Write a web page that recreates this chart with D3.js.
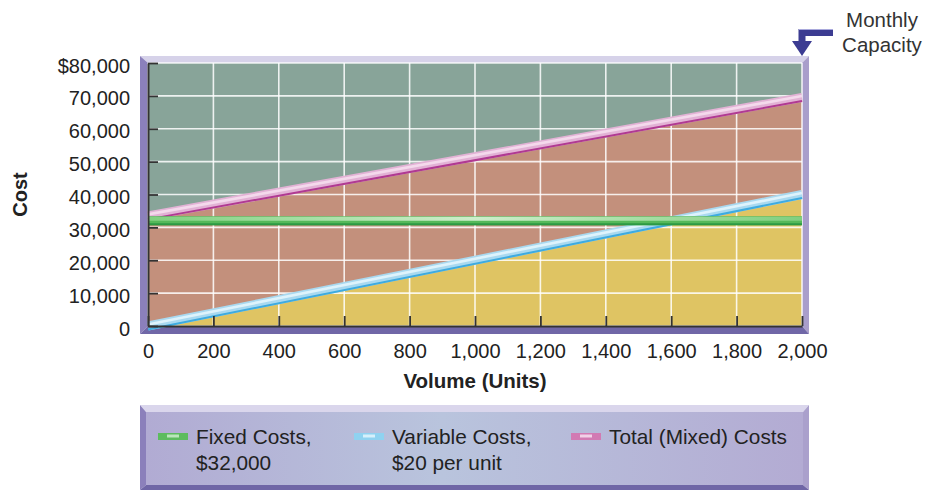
<!DOCTYPE html>
<html>
<head>
<meta charset="utf-8">
<script src="https://cdn.jsdelivr.net/npm/d3@7"></script>
<style>
  html, body { margin: 0; padding: 0; background: #ffffff; }
  svg { display: block; font-family: "Liberation Sans", Arial, Helvetica, sans-serif; }
</style>
</head>
<body>
<svg id="chart" width="926" height="491"></svg>
<script>
// Volume in units (x) and the three cost series in dollars (y)
const volumes = [0, 2000];
const fixedCosts = [32000, 32000];
const variableCosts = [0, 40000];
const totalCosts = [33500, 69500];

const xTicks = [0, 200, 400, 600, 800, 1000, 1200, 1400, 1600, 1800, 2000];
const yTicks = [0, 10000, 20000, 30000, 40000, 50000, 60000, 70000, 80000];
const capacityVolume = 2000;

const legendItems = [
  { lines: ["Fixed Costs,", "$32,000"], key: "fixed" },
  { lines: ["Variable Costs,", "$20 per unit"], key: "variable" },
  { lines: ["Total (Mixed) Costs"], key: "total" }
];

// Layout
const plot = { left: 148, right: 802, top: 63, bottom: 326 };
const font = "'Liberation Sans', Arial, Helvetica, sans-serif";

const palette = {
  upper: "#88a499",
  middle: "#c3907c",
  lower: "#dfc463",
  fixed: { band: "#55b95a", light: "#c4eac4", edge: "#2c9a44", swatch: "#5cbc5e" },
  variable: { band: "#a9d9f0", light: "#def3fc", edge: "#3eabe0", swatch: "#8fd2f0" },
  total: { band: "#e2b2d5", light: "#f4d9ec", edge: "#b03a92", swatch: "#d27ab3" }
};

const svg = d3.select("#chart");
const defs = svg.append("defs");

const x = d3.scaleLinear().domain([0, 2000]).range([plot.left, plot.right]);
const y = d3.scaleLinear().domain([0, 80000]).range([plot.bottom, plot.top]);

const pts = s => volumes.map((v, i) => [v, s[i]]);
const line = d3.line().x(d => x(d[0])).y(d => y(d[1]));

// Bevelled frame around a panel
function bevelFrame(g, L, R, T, B, w, colors) {
  const sides = [
    { p: [[L - w.l, T - w.t], [R + w.r, T - w.t], [R, T], [L, T]], c: colors.top },
    { p: [[L - w.l, T - w.t], [L, T], [L, B], [L - w.l, B + w.b]], c: colors.left },
    { p: [[R, T], [R + w.r, T - w.t], [R + w.r, B + w.b], [R, B]], c: colors.right },
    { p: [[L, B], [R, B], [R + w.r, B + w.b], [L - w.l, B + w.b]], c: colors.bottom }
  ];
  g.selectAll(null).data(sides).join("polygon")
    .attr("points", d => d.p.map(q => q.join(",")).join(" "))
    .attr("fill", d => d.c);
}

const frameColors = { top: "#d6d2e9", left: "#8b80bb", right: "#a99ecb", bottom: "#7067a7" };
bevelFrame(svg.append("g"), plot.left, plot.right, plot.top, plot.bottom,
  { l: 8, t: 7, r: 7, b: 8 }, frameColors);

// Filled regions
const plotG = svg.append("g");
plotG.append("rect")
  .attr("x", plot.left).attr("y", plot.top)
  .attr("width", plot.right - plot.left).attr("height", plot.bottom - plot.top)
  .attr("fill", palette.upper);
plotG.append("path")
  .datum(volumes.map((v, i) => ({ v, top: totalCosts[i], bot: variableCosts[i] })))
  .attr("d", d3.area().x(d => x(d.v)).y0(d => y(d.bot)).y1(d => y(d.top)))
  .attr("fill", palette.middle);
plotG.append("path")
  .datum(volumes.map((v, i) => ({ v, top: variableCosts[i] })))
  .attr("d", d3.area().x(d => x(d.v)).y0(y(0)).y1(d => y(d.top)))
  .attr("fill", palette.lower);

// Grid
const grid = svg.append("g").attr("stroke", "#ffffff").attr("stroke-opacity", 0.85).attr("stroke-width", 1.6);
grid.selectAll(".gx").data(xTicks).join("line")
  .attr("x1", d => x(d)).attr("x2", d => x(d))
  .attr("y1", plot.top).attr("y2", plot.bottom);
grid.selectAll(".gy").data(yTicks).join("line")
  .attr("x1", plot.left).attr("x2", plot.right)
  .attr("y1", d => y(d)).attr("y2", d => y(d));

// Cost lines drawn as glossy bands with a darker lower edge
function band(series, c, width) {
  const g = svg.append("g").attr("fill", "none").attr("stroke-linecap", "butt");
  const d = line(pts(series));
  g.append("path").attr("d", d).attr("stroke", c.band).attr("stroke-width", width);
  g.append("path").attr("d", d).attr("transform", "translate(0,-1.5)")
    .attr("stroke", c.light).attr("stroke-width", width * 0.3);
  g.append("path").attr("d", d).attr("transform", `translate(0,${width / 2 - 1})`)
    .attr("stroke", c.edge).attr("stroke-width", 2);
  return g;
}
band(totalCosts, palette.total, 9);
band(variableCosts, palette.variable, 9);

// Fixed cost band with a soft highlight across the middle
const fixedGrad = defs.append("linearGradient").attr("id", "fixedGlow")
  .attr("gradientUnits", "userSpaceOnUse")
  .attr("x1", plot.left).attr("x2", plot.right).attr("y1", 0).attr("y2", 0);
fixedGrad.selectAll("stop").data([
  { o: 0, c: "#80d080" }, { o: 0.5, c: "#cdeecb" }, { o: 1, c: "#80cf80" }
]).join("stop").attr("offset", d => d.o).attr("stop-color", d => d.c);

const fg = svg.append("g").attr("fill", "none");
const fd = line(pts(fixedCosts));
fg.append("path").attr("d", fd).attr("stroke", palette.fixed.band).attr("stroke-width", 9);
fg.append("path").attr("d", fd).attr("transform", "translate(0,-2)")
  .attr("stroke", "url(#fixedGlow)").attr("stroke-width", 4);
fg.append("path").attr("d", fd).attr("transform", "translate(0,3.5)")
  .attr("stroke", palette.fixed.edge).attr("stroke-width", 2);

// Axes
const yAxis = d3.axisLeft(y).tickValues(yTicks)
  .tickSizeInner(-10).tickSizeOuter(0).tickPadding(18)
  .tickFormat(d => d === 80000 ? "$" + d3.format(",")(d) : d3.format(",")(d));
const yG = svg.append("g").attr("transform", `translate(${plot.left},0)`).call(yAxis);

const xAxis = d3.axisBottom(x).tickValues(xTicks)
  .tickSizeInner(-10).tickSizeOuter(0).tickPadding(18)
  .tickFormat(d3.format(","));
const xG = svg.append("g").attr("transform", `translate(0,${plot.bottom})`).call(xAxis);

[yG, xG].forEach(g => {
  g.select(".domain").attr("stroke", "#333").attr("stroke-width", 2);
  g.selectAll(".tick line").attr("stroke", "#333").attr("stroke-width", 1.8);
  g.selectAll(".tick text").attr("fill", "#222").attr("font-size", 20).attr("font-family", font);
});
yG.selectAll(".tick text").attr("dy", "0.45em");

// Axis titles
svg.append("text")
  .attr("transform", `translate(27,${(plot.top + plot.bottom) / 2}) rotate(-90)`)
  .attr("text-anchor", "middle")
  .attr("font-size", 20).attr("font-weight", "bold").attr("fill", "#222")
  .text("Cost");
svg.append("text")
  .attr("x", (plot.left + plot.right) / 2).attr("y", 388)
  .attr("text-anchor", "middle")
  .attr("font-size", 20.5).attr("font-weight", "bold").attr("fill", "#222")
  .text("Volume (Units)");

// Monthly capacity marker
const cx = x(capacityVolume);
const marker = svg.append("g");
marker.append("path")
  .attr("d", `M${cx + 31},32.5 H${cx} V43`)
  .attr("fill", "none").attr("stroke", "#3c3c92").attr("stroke-width", 7)
  .attr("stroke-linejoin", "miter");
marker.append("path")
  .attr("d", `M${cx + 31},29.5 H${cx - 3}`)
  .attr("stroke", "#a9a9dc").attr("stroke-width", 1.2);
marker.append("polygon")
  .attr("points", `${cx - 10},41 ${cx + 10},41 ${cx},56`)
  .attr("fill", "#3c3c92");
marker.append("text")
  .attr("text-anchor", "middle")
  .attr("font-size", 20.5).attr("fill", "#333")
  .selectAll("tspan").data(["Monthly", "Capacity"]).join("tspan")
  .attr("x", 882).attr("y", (d, i) => 27 + i * 25)
  .text(d => d);

// Legend panel
const lg = svg.append("g");
const legendGrad = defs.append("linearGradient").attr("id", "legendFill");
legendGrad.selectAll("stop").data([
  { o: 0, c: "#b1abd3" }, { o: 0.45, c: "#b9c4dd" }, { o: 1, c: "#b3abd3" }
]).join("stop").attr("offset", d => d.o).attr("stop-color", d => d.c);
const box = { left: 146, right: 803, top: 412, bottom: 485 };
lg.append("rect")
  .attr("x", box.left).attr("y", box.top)
  .attr("width", box.right - box.left).attr("height", box.bottom - box.top)
  .attr("fill", "url(#legendFill)");
bevelFrame(lg, box.left, box.right, box.top, box.bottom,
  { l: 6, t: 7, r: 6, b: 5 }, { top: "#dad6ec", left: "#8b80bb", right: "#aaa0cc", bottom: "#6f66a6" });

const legendX = [158, 354, 571];
const item = lg.selectAll(".item").data(legendItems).join("g")
  .attr("transform", (d, i) => `translate(${legendX[i]},0)`);
item.append("rect")
  .attr("x", 0).attr("y", 433).attr("width", 30).attr("height", 7)
  .attr("fill", d => palette[d.key].swatch);
item.append("rect")
  .attr("x", 9).attr("y", 434.5).attr("width", 12).attr("height", 3)
  .attr("fill", d => palette[d.key].light).attr("opacity", 0.9);
item.append("text")
  .attr("font-size", 20.8).attr("fill", "#222")
  .selectAll("tspan").data(d => d.lines).join("tspan")
  .attr("x", 38).attr("y", (d, i) => 444 + i * 26)
  .text(d => d);
</script>
</body>
</html>
